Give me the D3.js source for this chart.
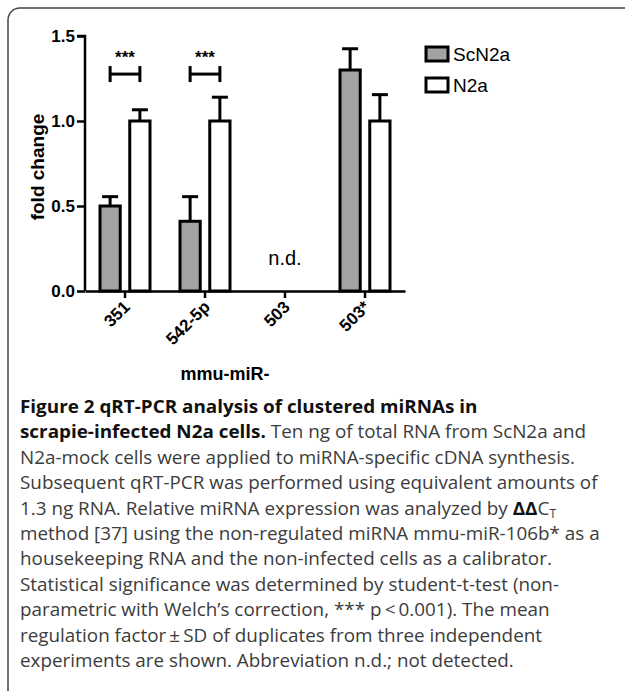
<!DOCTYPE html>
<html>
<head>
<meta charset="utf-8">
<script src="https://cdn.jsdelivr.net/npm/d3@7"></script>
<style>
  body { margin: 0; background: #fff; }
  .axis text { font-family: "Liberation Sans", Arial, sans-serif; font-weight: bold; fill: #000; }
  .caption { font-family: "Open Sans", sans-serif; font-size: 18.5px; fill: #3c3c3c; }
</style>
</head>
<body>
<div id="chart"></div>
<script>
// data
const categories = ["351", "542-5p", "503", "503*"];
const series = ["ScN2a", "N2a"];
const scn2aMean = [0.50, 0.41, null, 1.30];
const scn2aSd = [0.055, 0.145, null, 0.125];
const n2aMean = [1.0, 1.0, null, 1.0];
const n2aSd = [0.066, 0.14, null, 0.155];
const yTicks = [0, 0.5, 1.0, 1.5];
const sigPairs = ["351", "542-5p"]; // *** marked groups
const captionLines = [
  [["Figure 2 qRT-PCR analysis of clustered miRNAs in", true]],
  [["scrapie-infected N2a cells.", true], [" Ten ng of total RNA from ScN2a and", false]],
  [["N2a-mock cells were applied to miRNA-specific cDNA synthesis.", false]],
  [["Subsequent qRT-PCR was performed using equivalent amounts of", false]],
  [["1.3 ng RNA. Relative miRNA expression was analyzed by ", false], ["ΔΔ", true], ["C", false], ["T", "sub"]],
  [["method [37] using the non-regulated miRNA mmu-miR-106b* as a", false]],
  [["housekeeping RNA and the non-infected cells as a calibrator.", false]],
  [["Statistical significance was determined by student-t-test (non-", false]],
  [["parametric with Welch\u2019s correction, *** p\u2009<\u20090.001). The mean", false]],
  [["regulation factor\u2009\u00b1\u2009SD of duplicates from three independent", false]],
  [["experiments are shown. Abbreviation n.d.; not detected.", false]]
];

const width = 625, height = 691;
const svg = d3.select("#chart").append("svg")
  .attr("width", width).attr("height", height);

// frame
svg.append("rect")
  .attr("x", 8).attr("y", 8)
  .attr("width", 700).attr("height", 700)
  .attr("rx", 12)
  .attr("fill", "none")
  .attr("stroke", "#444")
  .attr("stroke-width", 1.5);

// scales
const x0 = d3.scaleBand().domain(categories).range([85, 405]).paddingInner(0).paddingOuter(0);
const x1 = d3.scaleBand().domain(series).range([15, 65]).paddingInner(0.32);
const y = d3.scaleLinear().domain([0, 1.5]).range([291, 36]);

const rows = categories.map((c, i) => ({
  cat: c,
  vals: [
    { s: "ScN2a", m: scn2aMean[i], sd: scn2aSd[i] },
    { s: "N2a", m: n2aMean[i], sd: n2aSd[i] }
  ]
}));

const color = d3.scaleOrdinal().domain(series).range(["#a3a3a3", "#ffffff"]);

// bars + error bars
const g = svg.append("g");
const groups = g.selectAll("g.grp").data(rows).join("g")
  .attr("class", "grp")
  .attr("transform", d => `translate(${x0(d.cat)},0)`);

const items = groups.selectAll("g.item").data(d => d.vals.filter(v => v.m !== null)).join("g")
  .attr("class", "item");

const cx = d => x1(d.s) + x1.bandwidth() / 2;
items.append("line")
  .attr("x1", cx).attr("x2", cx)
  .attr("y1", d => y(d.m)).attr("y2", d => y(d.m + d.sd))
  .attr("stroke", "#000").attr("stroke-width", 3);
items.append("line")
  .attr("x1", d => cx(d) - 8).attr("x2", d => cx(d) + 8)
  .attr("y1", d => y(d.m + d.sd)).attr("y2", d => y(d.m + d.sd))
  .attr("stroke", "#000").attr("stroke-width", 3);
items.append("rect")
  .attr("x", d => x1(d.s))
  .attr("width", x1.bandwidth())
  .attr("y", d => y(d.m))
  .attr("height", d => y(0) - y(d.m))
  .attr("fill", d => color(d.s))
  .attr("stroke", "#000").attr("stroke-width", 3);

// significance brackets
sigPairs.forEach(c => {
  const xa = x0(c) + x1("ScN2a") + x1.bandwidth() / 2;
  const xb = x0(c) + x1("N2a") + x1.bandwidth() / 2;
  const yb = y(1.276);
  const b = g.append("g");
  b.append("line").attr("x1", xa).attr("x2", xb).attr("y1", yb).attr("y2", yb)
    .attr("stroke", "#000").attr("stroke-width", 3);
  [xa, xb].forEach(xx => b.append("line").attr("x1", xx).attr("x2", xx)
    .attr("y1", yb - 8).attr("y2", yb + 8).attr("stroke", "#000").attr("stroke-width", 3));
  b.append("text").attr("x", (xa + xb) / 2).attr("y", yb - 11)
    .attr("text-anchor", "middle")
    .style("font-family", "Liberation Sans, Arial, sans-serif")
    .style("font-size", "17px").style("font-weight", "bold")
    .text("***");
});

// n.d.
g.append("text")
  .attr("x", x0("503") + x0.bandwidth() / 2)
  .attr("y", y(0.155))
  .attr("text-anchor", "middle")
  .style("font-family", "Liberation Sans, Arial, sans-serif")
  .style("font-size", "20px")
  .text("n.d.");

// axes
const yAxis = d3.axisLeft(y).tickValues(yTicks).tickFormat(d3.format(".1f")).tickSize(8).tickPadding(2);
const yG = svg.append("g").attr("class", "axis").attr("transform", "translate(85,0)").call(yAxis);
yG.selectAll("path, line").attr("stroke", "#000").attr("stroke-width", 2.5);
yG.select(".domain").attr("d", `M-8,${y(1.5)}H0V${y(0)}`);
yG.selectAll("text").style("font-size", "17px");

const xAxis = d3.axisBottom(x0).tickSize(7).tickSizeOuter(0);
const xG = svg.append("g").attr("class", "axis").attr("transform", `translate(0,${y(0)})`).call(xAxis);
xG.selectAll("path, line").attr("stroke", "#000").attr("stroke-width", 2.5);
xG.selectAll("text")
  .style("font-size", "17px")
  .attr("text-anchor", "end")
  .attr("dy", null)
  .attr("y", 0)
  .attr("transform", "translate(6,17) rotate(-45)");

// axis titles
svg.append("text")
  .attr("transform", "translate(44,167) rotate(-90)")
  .attr("text-anchor", "middle")
  .style("font-family", "Liberation Sans, Arial, sans-serif")
  .style("font-size", "19px").style("font-weight", "bold")
  .text("fold change");
svg.append("text")
  .attr("x", 225).attr("y", 380)
  .attr("text-anchor", "middle")
  .style("font-family", "Liberation Sans, Arial, sans-serif")
  .style("font-size", "18px").style("font-weight", "bold")
  .text("mmu-miR-");

// legend
const leg = svg.append("g").attr("transform", "translate(426,47)");
series.forEach((s, i) => {
  leg.append("rect").attr("x", 0).attr("y", i * 31).attr("width", 22).attr("height", 14)
    .attr("fill", color(s)).attr("stroke", "#000").attr("stroke-width", 3);
  leg.append("text").attr("x", 27).attr("y", i * 31 + 14)
    .style("font-family", "Liberation Sans, Arial, sans-serif")
    .style("font-size", "19px")
    .text(s);
});

// caption
const cap = svg.append("g").attr("transform", "translate(20,0) scale(1.02,1)");
captionLines.forEach((line, i) => {
  const t = cap.append("text").attr("class", "caption")
    .attr("x", 0).attr("y", 413 + i * 25.4);
  line.forEach(([txt, style]) => {
    const ts = t.append("tspan").text(txt);
    if (style === true) ts.style("font-weight", "bold").style("fill", "#111");
    if (style === "sub") ts.attr("dy", 3).style("font-size", "12px");
  });
});
</script>
</body>
</html>
